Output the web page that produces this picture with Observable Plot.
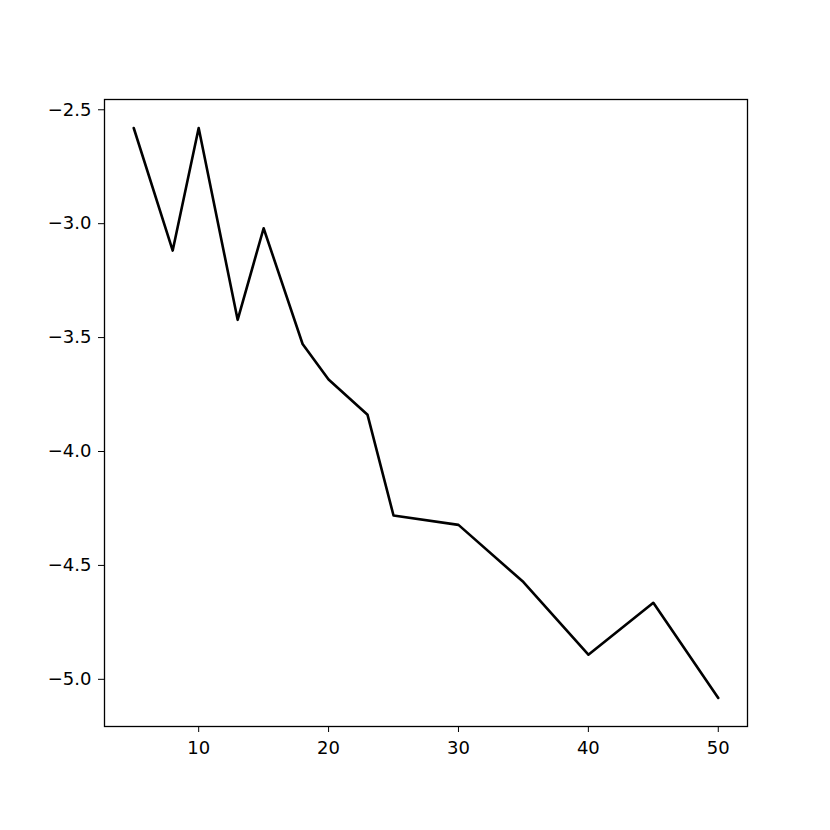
<!DOCTYPE html>
<html>
<head>
<meta charset="utf-8">
<script src="https://cdn.jsdelivr.net/npm/d3@7"></script>
<script src="https://cdn.jsdelivr.net/npm/@observablehq/plot@0.6"></script>
<style>
  html, body { margin: 0; padding: 0; background: #fff; }
  svg { display: block; }
</style>
</head>
<body>
<div id="chart"></div>
<script>
const xValues = [5, 8, 10, 13, 15, 18, 20, 23, 25, 30, 35, 40, 45, 50];
const yValues = [-2.580, -3.118, -2.580, -3.422, -3.020, -3.528, -3.684, -3.839, -4.281, -4.322, -4.573, -4.892, -4.664, -5.082];
const xTicks = [10, 20, 30, 40, 50];
const yTicks = [-2.5, -3.0, -3.5, -4.0, -4.5, -5.0];

const data = xValues.map((x, i) => ({x, y: yValues[i]}));

const xMin = d3.min(xValues), xMax = d3.max(xValues);
const yMin = d3.min(yValues), yMax = d3.max(yValues);
const xPad = (xMax - xMin) * 0.05, yPad = (yMax - yMin) * 0.05;

const chart = Plot.plot({
  width: 830,
  height: 830,
  marginLeft: 104,
  marginRight: 83,
  marginTop: 99,
  marginBottom: 104,
  style: {fontFamily: "DejaVu Sans", fontSize: "18px", color: "black", background: "white"},
  x: {domain: [xMin - xPad, xMax + xPad]},
  y: {domain: [yMin - yPad, yMax + yPad]},
  marks: [
    Plot.frame({stroke: "black", strokeWidth: 1.3}),
    Plot.axisX({ticks: xTicks, tickSize: 6, tickPadding: 9, label: null, fontSize: 18, tickFormat: d3.format("d")}),
    Plot.axisY({ticks: yTicks, tickSize: 6, tickPadding: 7, label: null, fontSize: 18, tickFormat: d3.format(".1f")}),
    Plot.line(data, {x: "x", y: "y", stroke: "black", strokeWidth: 2.6})
  ]
});
document.getElementById("chart").appendChild(chart);
</script>
</body>
</html>
